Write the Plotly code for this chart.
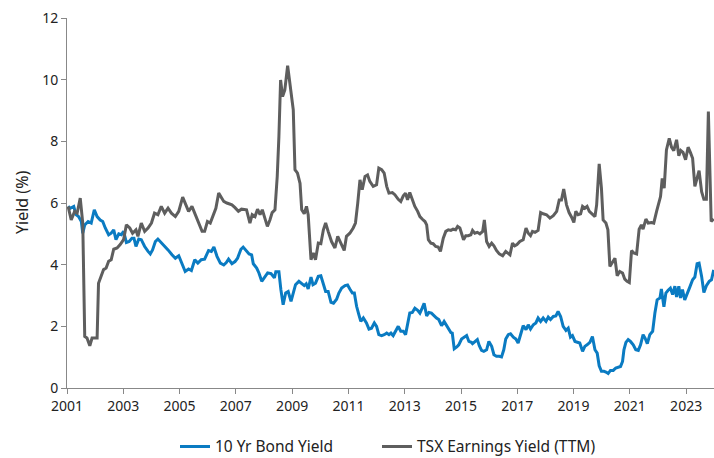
import plotly.graph_objects as go

# 10 Yr Bond Yield (%), decimal year
bond_x = [2001.04, 2001.12, 2001.24, 2001.32, 2001.41, 2001.51, 2001.56, 2001.63, 2001.75, 2001.86,
          2001.97, 2002.07, 2002.18, 2002.27, 2002.36, 2002.48, 2002.57, 2002.66, 2002.74, 2002.84,
          2002.93, 2003.01, 2003.11, 2003.21, 2003.31, 2003.38, 2003.45, 2003.55, 2003.64, 2003.76,
          2003.88, 2003.96, 2004.04, 2004.14, 2004.23, 2004.35, 2004.47, 2004.59, 2004.73, 2004.85,
          2004.97, 2005.09, 2005.20, 2005.32, 2005.42, 2005.54, 2005.65, 2005.77, 2005.89, 2006.03,
          2006.13, 2006.22, 2006.33, 2006.45, 2006.57, 2006.66, 2006.74, 2006.86, 2006.97, 2007.06,
          2007.18, 2007.26, 2007.35, 2007.47, 2007.56, 2007.62, 2007.74, 2007.82, 2007.92, 2008.01,
          2008.13, 2008.25, 2008.37, 2008.42, 2008.53, 2008.60, 2008.68, 2008.77, 2008.86, 2008.96,
          2009.04, 2009.12, 2009.24, 2009.34, 2009.43, 2009.50, 2009.57, 2009.67, 2009.74, 2009.83,
          2009.93, 2010.02, 2010.11, 2010.19, 2010.28, 2010.38, 2010.47, 2010.58, 2010.66, 2010.76,
          2010.88, 2010.97, 2011.05, 2011.14, 2011.21, 2011.29, 2011.37, 2011.44, 2011.53, 2011.64,
          2011.73, 2011.82, 2011.92, 2012.00, 2012.08, 2012.18, 2012.27, 2012.36, 2012.44, 2012.51,
          2012.59, 2012.68, 2012.77, 2012.86, 2012.95, 2013.03, 2013.10, 2013.18, 2013.27, 2013.36,
          2013.46, 2013.54, 2013.62, 2013.69, 2013.78, 2013.86, 2013.95, 2014.05, 2014.13, 2014.21,
          2014.31, 2014.40, 2014.49, 2014.57, 2014.64, 2014.69, 2014.76, 2014.85, 2014.92, 2015.02,
          2015.11, 2015.20, 2015.28, 2015.37, 2015.41, 2015.49, 2015.58, 2015.65, 2015.73, 2015.81,
          2015.91, 2015.99, 2016.09, 2016.17, 2016.26, 2016.36, 2016.44, 2016.52, 2016.59, 2016.68,
          2016.76, 2016.86, 2016.95, 2017.03, 2017.12, 2017.21, 2017.31, 2017.39, 2017.47, 2017.57,
          2017.66, 2017.74, 2017.83, 2017.92, 2018.02, 2018.10, 2018.18, 2018.28, 2018.37, 2018.45,
          2018.54, 2018.63, 2018.73, 2018.81, 2018.89, 2018.96, 2019.05, 2019.13, 2019.22, 2019.32,
          2019.40, 2019.48, 2019.58, 2019.67, 2019.76, 2019.84, 2019.91, 2019.99, 2020.08, 2020.17,
          2020.23, 2020.31, 2020.41, 2020.50, 2020.59, 2020.67, 2020.74, 2020.79, 2020.86, 2020.94,
          2021.02, 2021.12, 2021.21, 2021.30, 2021.38, 2021.47, 2021.54, 2021.62, 2021.71, 2021.81,
          2021.89, 2021.97, 2022.07, 2022.12, 2022.21, 2022.28, 2022.36, 2022.44, 2022.52, 2022.60,
          2022.66, 2022.74, 2022.80, 2022.87, 2022.95, 2023.04, 2023.13, 2023.23, 2023.31, 2023.39,
          2023.46, 2023.55, 2023.63, 2023.72, 2023.82, 2023.90, 2023.98]
bond_y = [5.89, 5.83, 5.89, 5.62, 5.56, 5.40, 5.02, 5.29, 5.40, 5.35,
          5.78, 5.56, 5.45, 5.40, 5.19, 4.97, 5.02, 5.13, 4.81, 5.00,
          4.97, 5.08, 4.72, 4.75, 4.86, 4.86, 4.59, 4.83, 4.81, 4.59,
          4.43, 4.35, 4.48, 4.75, 4.83, 4.72, 4.59, 4.48, 4.32, 4.21,
          4.29, 4.03, 3.78, 3.86, 3.81, 4.16, 4.05, 4.16, 4.18, 4.46,
          4.43, 4.57, 4.27, 4.05, 3.99, 4.07, 4.18, 4.03, 4.10, 4.21,
          4.50, 4.57, 4.48, 4.35, 4.32, 4.03, 3.89, 3.73, 3.46, 3.57,
          3.73, 3.71, 3.57, 3.77, 3.77, 3.19, 2.70, 3.08, 3.13, 2.81,
          3.08, 3.35, 3.46, 3.40, 3.32, 3.38, 3.21, 3.60, 3.35, 3.40,
          3.62, 3.64, 3.35, 3.13, 3.13, 2.78, 2.75, 2.88, 3.08, 3.24,
          3.32, 3.34, 3.21, 3.08, 3.08, 2.65, 2.38, 2.16, 2.27, 2.11,
          1.91, 1.94, 2.11, 2.00, 1.73, 1.70, 1.73, 1.78, 1.73, 1.78,
          1.70, 1.84, 2.00, 1.84, 1.84, 1.73, 2.11, 2.43, 2.45, 2.59,
          2.52, 2.43, 2.59, 2.75, 2.34, 2.45, 2.43, 2.32, 2.27, 2.22,
          2.02, 2.16, 2.02, 1.91, 1.80, 1.78, 1.27, 1.33, 1.40, 1.59,
          1.65, 1.70, 1.51, 1.48, 1.44, 1.51, 1.57, 1.37, 1.22, 1.19,
          1.24, 1.51, 1.35, 1.08, 1.03, 1.03, 1.01, 1.24, 1.59, 1.73,
          1.76, 1.65, 1.59, 1.46, 1.73, 2.02, 1.89, 2.05, 1.91, 2.05,
          2.11, 2.27, 2.16, 2.27, 2.16, 2.30, 2.22, 2.32, 2.34, 2.48,
          2.32, 2.00, 1.87, 1.94, 1.65, 1.70, 1.51, 1.48, 1.46, 1.19,
          1.35, 1.40, 1.48, 1.67, 1.24, 1.13, 0.72, 0.54, 0.54, 0.51,
          0.47, 0.57, 0.57, 0.65, 0.68, 0.70, 0.86, 1.24, 1.48, 1.57,
          1.51, 1.40, 1.24, 1.22, 1.40, 1.73, 1.62, 1.44, 1.73, 1.84,
          2.43, 2.86, 2.92, 3.21, 2.63, 3.08, 3.17, 3.24, 3.03, 3.30,
          2.95, 3.30, 2.92, 3.19, 2.86, 3.10, 3.27, 3.51, 3.60, 4.03,
          4.05, 3.62, 3.10, 3.32, 3.46, 3.51, 3.83]

# TSX Earnings Yield (TTM) (%), decimal year
tsx_x = [2001.04, 2001.15, 2001.27, 2001.36, 2001.47, 2001.56, 2001.63, 2001.71, 2001.81, 2001.89,
         2002.01, 2002.07, 2002.12, 2002.22, 2002.30, 2002.39, 2002.48, 2002.57, 2002.66, 2002.78,
         2002.89, 2003.01, 2003.11, 2003.23, 2003.33, 2003.45, 2003.52, 2003.64, 2003.76, 2003.88,
         2004.00, 2004.11, 2004.23, 2004.35, 2004.47, 2004.59, 2004.71, 2004.85, 2004.97, 2005.11,
         2005.23, 2005.32, 2005.44, 2005.56, 2005.68, 2005.80, 2005.89, 2005.99, 2006.09, 2006.21,
         2006.29, 2006.39, 2006.48, 2006.57, 2006.68, 2006.86, 2006.97, 2007.09, 2007.20, 2007.38,
         2007.50, 2007.58, 2007.68, 2007.77, 2007.86, 2007.94, 2008.03, 2008.12, 2008.21, 2008.29,
         2008.39, 2008.47, 2008.53, 2008.59, 2008.66, 2008.74, 2008.84, 2008.93, 2009.04, 2009.10,
         2009.19, 2009.28, 2009.34, 2009.43, 2009.51, 2009.57, 2009.67, 2009.75, 2009.83, 2009.93,
         2010.02, 2010.11, 2010.19, 2010.28, 2010.40, 2010.52, 2010.62, 2010.73, 2010.85, 2010.93,
         2011.05, 2011.17, 2011.25, 2011.33, 2011.41, 2011.49, 2011.59, 2011.68, 2011.76, 2011.88,
         2012.00, 2012.08, 2012.18, 2012.27, 2012.36, 2012.44, 2012.56, 2012.65, 2012.77, 2012.86,
         2012.95, 2013.03, 2013.10, 2013.18, 2013.27, 2013.36, 2013.46, 2013.54, 2013.62, 2013.72,
         2013.78, 2013.84, 2013.93, 2014.01, 2014.10, 2014.19, 2014.27, 2014.37, 2014.46, 2014.55,
         2014.64, 2014.72, 2014.81, 2014.88, 2014.96, 2015.02, 2015.09, 2015.17, 2015.26, 2015.35,
         2015.41, 2015.49, 2015.58, 2015.67, 2015.77, 2015.83, 2015.91, 2016.00, 2016.09, 2016.17,
         2016.26, 2016.36, 2016.48, 2016.59, 2016.68, 2016.74, 2016.83, 2016.91, 2016.99, 2017.09,
         2017.21, 2017.31, 2017.39, 2017.47, 2017.54, 2017.63, 2017.74, 2017.83, 2017.92, 2018.04,
         2018.16, 2018.28, 2018.40, 2018.49, 2018.57, 2018.65, 2018.75, 2018.84, 2018.93, 2019.01,
         2019.08, 2019.16, 2019.25, 2019.32, 2019.40, 2019.48, 2019.56, 2019.64, 2019.76, 2019.82,
         2019.91, 2019.99, 2020.05, 2020.15, 2020.22, 2020.29, 2020.38, 2020.47, 2020.55, 2020.64,
         2020.74, 2020.82, 2020.90, 2020.98, 2021.06, 2021.14, 2021.24, 2021.33, 2021.41, 2021.47,
         2021.57, 2021.65, 2021.77, 2021.85, 2021.95, 2022.04, 2022.09, 2022.15, 2022.22, 2022.30,
         2022.40, 2022.48, 2022.56, 2022.66, 2022.74, 2022.81, 2022.89, 2022.98, 2023.07, 2023.15,
         2023.23, 2023.31, 2023.39, 2023.46, 2023.55, 2023.63, 2023.72, 2023.79, 2023.89, 2023.98]
tsx_y = [5.89, 5.45, 5.73, 5.67, 6.16, 5.35, 1.67, 1.62, 1.37, 1.62,
         1.62, 1.62, 3.40, 3.62, 3.84, 3.89, 4.11, 4.16, 4.50, 4.54,
         4.65, 4.81, 5.29, 5.19, 5.02, 5.13, 4.92, 5.35, 5.08, 5.19,
         5.35, 5.67, 5.62, 5.89, 5.67, 5.83, 5.67, 5.56, 5.73, 6.19,
         5.89, 5.73, 5.89, 5.62, 5.35, 5.08, 5.08, 5.40, 5.35, 5.62,
         5.83, 6.32, 6.16, 6.05, 6.00, 5.94, 5.85, 5.73, 5.80, 5.78,
         5.35, 5.62, 5.56, 5.80, 5.62, 5.78, 5.51, 5.24, 5.45, 5.69,
         5.78, 6.86, 8.16, 9.99, 9.45, 9.67, 10.45, 9.78, 9.02, 7.08,
         6.97, 6.64, 5.78, 5.65, 5.89, 5.62, 4.16, 4.38, 4.16, 4.70,
         4.68, 5.13, 5.35, 5.08, 4.75, 4.54, 4.92, 4.70, 4.46, 4.92,
         5.02, 5.19, 5.35, 5.99, 6.75, 6.43, 6.86, 6.91, 6.70, 6.54,
         6.59, 7.13, 7.08, 6.97, 6.54, 6.32, 6.34, 6.27, 6.12, 6.05,
         6.23, 6.32, 6.10, 6.34, 6.12, 5.89, 5.73, 5.56, 5.48, 5.40,
         5.29, 4.81, 4.70, 4.68, 4.59, 4.57, 4.43, 4.86, 5.08, 5.13,
         5.11, 5.15, 5.13, 5.24, 5.19, 5.02, 4.81, 4.94, 4.94, 4.97,
         5.11, 5.02, 5.05, 5.00, 5.08, 5.45, 4.75, 4.59, 4.70, 4.61,
         4.46, 4.35, 4.29, 4.43, 4.38, 4.32, 4.70, 4.61, 4.65, 4.75,
         4.81, 5.19, 5.02, 4.94, 5.08, 5.05, 5.11, 5.69, 5.65, 5.62,
         5.51, 5.59, 5.73, 6.10, 6.10, 6.45, 5.94, 5.69, 5.54, 5.37,
         5.73, 5.62, 5.65, 5.89, 5.83, 5.89, 5.73, 5.65, 5.56, 5.94,
         7.27, 6.48, 5.45, 5.35, 5.13, 3.94, 4.10, 4.21, 3.64, 3.78,
         3.73, 3.53, 3.46, 3.42, 4.46, 4.38, 4.35, 5.15, 5.29, 5.15,
         5.48, 5.35, 5.37, 5.35, 5.73, 6.00, 6.21, 6.80, 6.48, 7.72,
         8.10, 7.81, 7.70, 8.05, 7.53, 7.70, 7.64, 7.40, 7.81, 7.64,
         7.45, 6.54, 6.80, 7.05, 6.37, 6.12, 6.12, 8.97, 5.40, 5.48]

y_ticks = [0, 2, 4, 6, 8, 10, 12]
x_ticks = [2001, 2003, 2005, 2007, 2009, 2011, 2013, 2015, 2017, 2019, 2021, 2023]

FONT = "Noto Sans"
L, R, T, B = 67, 0, 18, 70
W, H = 714, 458
PW = W - L - R

fig = go.Figure()
fig.add_trace(go.Scatter(x=bond_x, y=bond_y, mode="lines", name="10 Yr Bond Yield",
                         line=dict(color="#0a7bc2", width=3), legend="legend"))
fig.add_trace(go.Scatter(x=tsx_x, y=tsx_y, mode="lines", name="TSX Earnings Yield (TTM)",
                         line=dict(color="#5e5e5e", width=3), legend="legend2"))

leg_common = dict(orientation="h", xanchor="left", y=-0.113, yanchor="top",
                  font=dict(family=FONT, size=15.5, color="#222222"),
                  itemwidth=30, bgcolor="rgba(0,0,0,0)")

fig.update_layout(
    width=W, height=H,
    margin=dict(l=L, r=R, t=T, b=B, autoexpand=False),
    paper_bgcolor="white", plot_bgcolor="white",
    font=dict(family=FONT, size=14, color="#222222"),
    showlegend=True,
    legend=dict(x=(175 - L) / PW, **leg_common),
    legend2=dict(x=(377 - L) / PW, **leg_common),
    xaxis=dict(range=[2001, 2023.99], tickmode="array", tickvals=x_ticks,
               ticktext=[str(t) for t in x_ticks], automargin=False,
               showgrid=False, zeroline=False, showline=True, linecolor="#888888", linewidth=1,
               ticks="outside", ticklen=5, tickcolor="#888888",
               tickfont=dict(family=FONT, size=14, color="#222222")),
    yaxis=dict(range=[0, 12], tickmode="array", tickvals=y_ticks, automargin=False,
               showgrid=False, zeroline=False, showline=True, linecolor="#888888", linewidth=1,
               ticks="outside", ticklen=5, tickcolor="#888888",
               tickfont=dict(family=FONT, size=14, color="#222222")),
    annotations=[dict(text="Yield (%)", textangle=-90, xref="paper", yref="paper",
                      x=(22 - L) / PW, y=0.5, xanchor="center", yanchor="middle",
                      showarrow=False, font=dict(family=FONT, size=16, color="#222222"))],
)

fig.write_html("out.html", config={"displayModeBar": False},
               post_script="document.body.style.margin='0';document.body.style.overflow='hidden';")
